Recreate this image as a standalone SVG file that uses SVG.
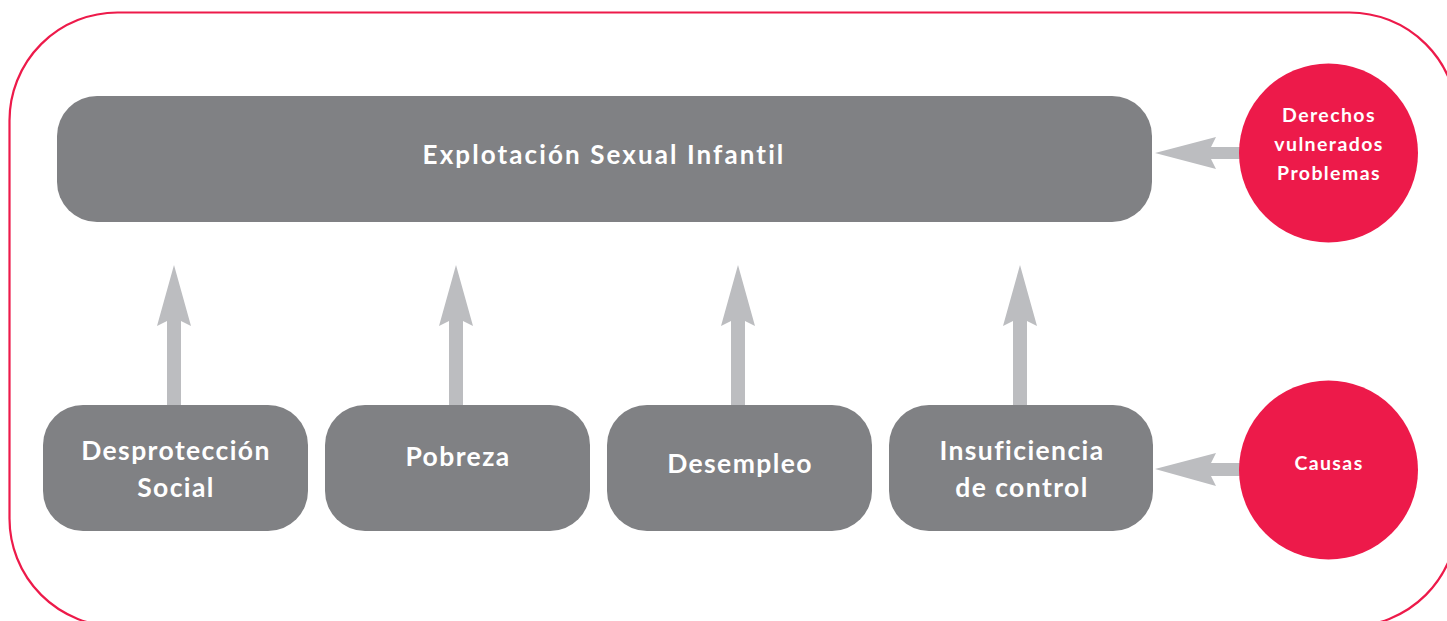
<svg xmlns="http://www.w3.org/2000/svg" width="1447" height="621" viewBox="0 0 1447 621">
<style>
.box{fill:#808184}
.circ{fill:#ED1A4A}
.arr{fill:#BCBDC0}
.t{font-family:Lato,"Open Sans","DejaVu Sans",sans-serif;font-weight:bold;fill:#ffffff;text-anchor:middle}
.big{font-size:26.5px;letter-spacing:1.4px}
.main{font-size:26px;letter-spacing:2.1px}
.sm{font-size:19.5px;letter-spacing:1.4px}
</style>
<rect x="9.5" y="12.5" width="1448" height="614" rx="108" fill="none" stroke="#ED1A4A" stroke-width="2.2"/>
<g id="connectors">
<path class="arr" d="M174,265 L191,326 L181,321 L181,405 L167,405 L167,321 L157,326 Z"/>
<path class="arr" d="M456,265 L473,326 L463,321 L463,405 L449,405 L449,321 L439,326 Z"/>
<path class="arr" d="M738,265 L755,326 L745,321 L745,405 L731,405 L731,321 L721,326 Z"/>
<path class="arr" d="M1020,265 L1037,326 L1027,321 L1027,405 L1013,405 L1013,321 L1003,326 Z"/>
<path class="arr" d="M1155,153 L1216,137 L1211,147 L1242,147 L1242,159 L1211,159 L1216,169 Z"/>
<path class="arr" d="M1155,469 L1216,453 L1211,463 L1242,463 L1242,476 L1211,476 L1216,486 Z"/>
</g>
<g id="main"><rect class="box" x="57" y="96" width="1095" height="126" rx="40"/><text class="t main" x="604" y="164">Explotación Sexual Infantil</text></g>
<g id="desproteccion"><rect class="box" x="43" y="405" width="265" height="126" rx="40"/><text class="t big" x="176" y="460">Desprotección</text><text class="t big" x="176" y="497">Social</text></g>
<g id="pobreza"><rect class="box" x="325" y="405" width="265" height="126" rx="40"/><text class="t big" x="458" y="466">Pobreza</text></g>
<g id="desempleo"><rect class="box" x="607" y="405" width="265" height="126" rx="40"/><text class="t big" x="740" y="473">Desempleo</text></g>
<g id="insuficiencia"><rect class="box" x="889" y="405" width="264" height="126" rx="40"/><text class="t big" x="1022" y="460">Insuficiencia</text><text class="t big" x="1022" y="497">de control</text></g>
<g id="derechos"><circle class="circ" cx="1328.5" cy="153" r="89.5"/><text class="t sm" x="1329" y="122">Derechos</text><text class="t sm" x="1329" y="151">vulnerados</text><text class="t sm" x="1329" y="180">Problemas</text></g>
<g id="causas"><circle class="circ" cx="1328.5" cy="470" r="89.5"/><text class="t sm" x="1329" y="470">Causas</text></g>
</svg>
